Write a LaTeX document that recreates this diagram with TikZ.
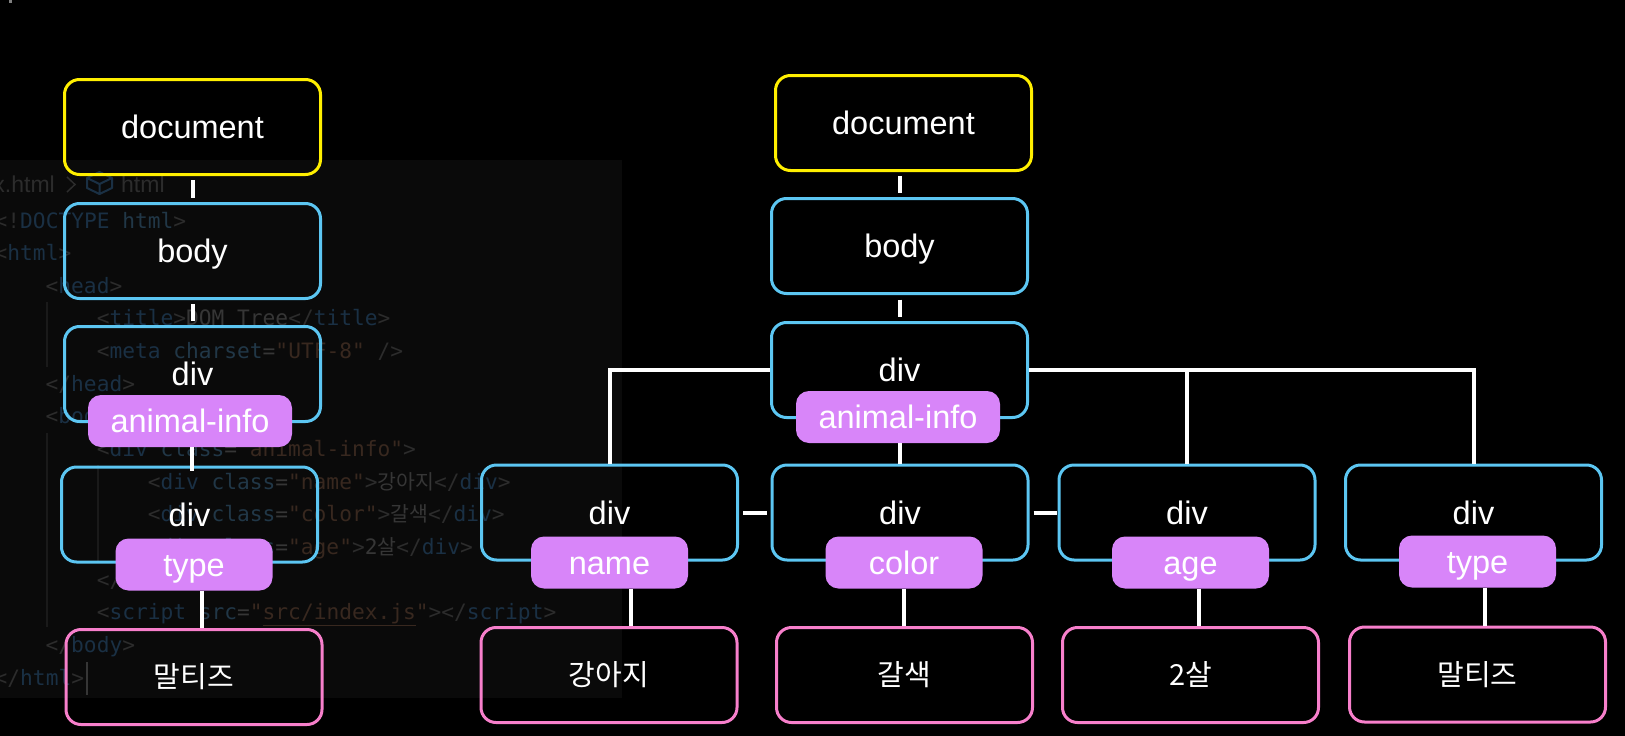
\documentclass[tikz,border=0pt]{standalone}
\usepackage{fontspec}
\setmainfont{Liberation Sans}
\newfontfamily\krfont{Noto Sans CJK KR}
\newfontfamily\codefont{DejaVu Sans Mono}
\definecolor{cyellow}{HTML}{FFEF00}
\definecolor{cblue}{HTML}{5CC6F2}
\definecolor{cpink}{HTML}{F77FCB}
\definecolor{cpill}{HTML}{D885F9}
\definecolor{cpanel}{HTML}{0A0A0A}
\definecolor{cpun}{HTML}{2C2C2C}
\definecolor{ctag}{HTML}{1A3044}
\definecolor{cattr}{HTML}{213747}
\definecolor{cstr}{HTML}{38281F}
\definecolor{ctxt}{HTML}{363636}
\definecolor{cguide}{HTML}{1A1A1A}
\newcommand\cdP[1]{\textcolor{cpun}{#1}}
\newcommand\cdT[1]{\textcolor{ctag}{#1}}
\newcommand\cdA[1]{\textcolor{cattr}{#1}}
\newcommand\cdS[1]{\textcolor{cstr}{#1}}
\newcommand\cdX[1]{\textcolor{ctxt}{#1}}
\newcommand\kcode[1]{{\krfont\fontsize{20.5}{22}\selectfont\color{ctxt}#1}}
\tikzset{
  lbl/.style={text=white, inner sep=0pt, font=\fontsize{32.5}{36}\selectfont, text height=23pt, text depth=0pt},
  box/.style={lbl, draw, line width=3pt, rounded corners=15pt, minimum width=256pt, minimum height=95pt},
  docbox/.style={box, draw=cyellow},
  elbox/.style={box, draw=cblue},
  leafbox/.style={box, draw=cpink, font=\krfont\fontsize{29}{33}\selectfont, text height=23pt, text depth=2pt},
  pill/.style={lbl, fill=cpill, rounded corners=13pt, minimum height=52pt},
  widepill/.style={pill, minimum width=204pt},
  smallpill/.style={pill, minimum width=157pt},
  link/.style={draw=white, line width=4pt},
  codeline/.style={anchor=base west, inner sep=0pt, font=\codefont\fontsize{21.2}{24}\selectfont},
  crumb/.style={inner sep=0pt, text=cpun, font=\fontsize{23}{26}\selectfont},
  guide/.style={draw=cguide, line width=1.5pt}
}
\begin{document}
\begin{tikzpicture}[x=1pt,y=-1pt]
\useasboundingbox (0,0) rectangle (1625,736);
\fill[black] (0,0) rectangle (1625,736);
\fill[gray] (9,0) rectangle (12,3);
% code editor panel
\begin{scope}
\clip (0,160) rectangle (622,698);
\fill[cpanel] (0,160) rectangle (622,698);
\node[crumb, anchor=base east] (crumbA) at (55,192) {index.html};
\draw[cpun, line width=1.5pt] (67,177) -- (75,184.5) -- (67,192);
\draw[ctag, line width=2pt, line join=round] (99.5,172) -- (112,178) -- (112,188) -- (99.5,194) -- (87,188) -- (87,178) -- cycle
  (87,178) -- (99.5,184) -- (112,178) (99.5,184) -- (99.5,194);
\node[crumb, anchor=base west] (crumbB) at (121,192) {html};
\draw[guide] (47,302) -- (47,367);
\draw[guide] (47,433) -- (47,627);
\draw[guide] (98,465) -- (98,561);
\node[codeline] (code0) at (-5.5,228) {\cdP{<!}\cdT{DOCTYPE} \cdA{html}\cdP{>}};
\node[codeline] (code1) at (-5.5,260.65) {\cdP{<}\cdT{html}\cdP{>}};
\node[codeline] (code2) at (45.5,293.3) {\cdP{<}\cdT{head}\cdP{>}};
\node[codeline] (code3) at (96.6,325.95) {\cdP{<}\cdT{title}\cdP{>}\cdX{DOM Tree}\cdP{</}\cdT{title}\cdP{>}};
\node[codeline] (code4) at (96.6,358.6) {\cdP{<}\cdT{meta} \cdA{charset}\cdX{=}\cdS{"UTF-8"} \cdP{/>}};
\node[codeline] (code5) at (45.5,391.25) {\cdP{</}\cdT{head}\cdP{>}};
\node[codeline] (code6) at (45.5,423.9) {\cdP{<}\cdT{body}\cdP{>}};
\node[codeline] (code7) at (96.6,456.55) {\cdP{<}\cdT{div} \cdA{class}\cdX{=}\cdS{"animal-info"}\cdP{>}};
\node[codeline] (code8) at (147.6,489.2) {\cdP{<}\cdT{div} \cdA{class}\cdX{=}\cdS{"name"}\cdP{>}\kcode{강아지}\cdP{</}\cdT{div}\cdP{>}};
\node[codeline] (code9) at (147.6,521.85) {\cdP{<}\cdT{div} \cdA{class}\cdX{=}\cdS{"color"}\cdP{>}\kcode{갈색}\cdP{</}\cdT{div}\cdP{>}};
\node[codeline] (code10) at (147.6,554.5) {\cdP{<}\cdT{div} \cdA{class}\cdX{=}\cdS{"age"}\cdP{>}\cdX{2}\kcode{살}\cdP{</}\cdT{div}\cdP{>}};
\node[codeline] (code11) at (96.6,587.15) {\cdP{</}\cdT{div}\cdP{>}};
\node[codeline] (code12) at (96.6,619.8) {\cdP{<}\cdT{script} \cdA{src}\cdX{=}\cdS{"\underline{src/index.js}"}\cdP{></}\cdT{script}\cdP{>}};
\node[codeline] (code13) at (45.5,652.45) {\cdP{</}\cdT{body}\cdP{>}};
\node[codeline] (code14) at (-5.5,685.1) {\cdP{</}\cdT{html}\cdP{>}};
\draw[ctxt, line width=2pt] (87,662) -- (87,695);
\end{scope}
% left tree
\node[docbox] (docL) at (192.5,127) {document};
\node[elbox] (bodyL) at (192.5,251) {body};
\node[elbox] (div1L) at (192.5,374) {div};
\node[elbox] (divtL) at (189.5,514.5) {div};
\node[leafbox] (leafL) at (194,677) {말티즈};
\node[widepill] (aiL) at (190,421) {animal-info};
\node[smallpill] (typeL) at (194,564.5) {type};
% right tree
\node[docbox] (docR) at (903.5,123) {document};
\node[elbox] (bodyR) at (899.5,246) {body};
\node[elbox] (divR) at (899.5,370) {div};
\node[elbox] (nameD) at (609.5,512.5) {div};
\node[elbox] (colorD) at (900,512.5) {div};
\node[elbox] (ageD) at (1187,512.5) {div};
\node[elbox] (typeD) at (1473.5,512.5) {div};
\node[widepill] (aiR) at (898,417) {animal-info};
\node[smallpill] (pN) at (609.5,562.5) {name};
\node[smallpill] (pC) at (904,562.5) {color};
\node[smallpill] (pA) at (1190.5,562.5) {age};
\node[smallpill] (pT) at (1477.5,561.5) {type};
\node[leafbox] (leafN) at (609,675) {강아지};
\node[leafbox] (leafC) at (904.5,675) {갈색};
\node[leafbox] (leafA) at (1190.5,675) {2살};
\node[leafbox] (leafT) at (1477.5,674.5) {말티즈};
% left connectors
\draw[link, shorten <=4pt, shorten >=4pt] (docL) -- (bodyL);
\draw[link, shorten <=4pt, shorten >=4pt] (bodyL) -- (div1L);
\draw[link, shorten >=-5pt] ([xshift=2pt]aiL.south) -- ([xshift=2pt]aiL.south |- divtL.north);
\draw[link] ([xshift=8pt]typeL.south) -- ([xshift=8pt]typeL.south |- leafL.north);
% right connectors
\draw[link, shorten <=4pt, shorten >=4pt] (bodyR.north |- docR.south) -- (bodyR.north);
\draw[link, shorten <=4.5pt, shorten >=4.5pt] (bodyR) -- (divR);
\draw[link] (divR.west) -| (nameD.north);
\draw[link] (divR.east) -| (typeD.north);
\draw[link] (ageD.north |- divR.east) -- (ageD.north);
\draw[link] (colorD.north |- aiR.south) -- (colorD.north);
\draw[link, shorten <=4pt, shorten >=4pt] (nameD.east) -- (colorD.west);
\draw[link, shorten <=4pt, shorten >=1pt] (colorD.east) -- (ageD.west);
\draw[link] ([xshift=21.5pt]pN.south) -- ([xshift=21.5pt]pN.south |- leafN.north);
\draw[link] (pC.south) -- (pC.south |- leafC.north);
\draw[link] ([xshift=8.5pt]pA.south) -- ([xshift=8.5pt]pA.south |- leafA.north);
\draw[link] ([xshift=7.5pt]pT.south) -- ([xshift=7.5pt]pT.south |- leafT.north);
\end{tikzpicture}
\end{document}
